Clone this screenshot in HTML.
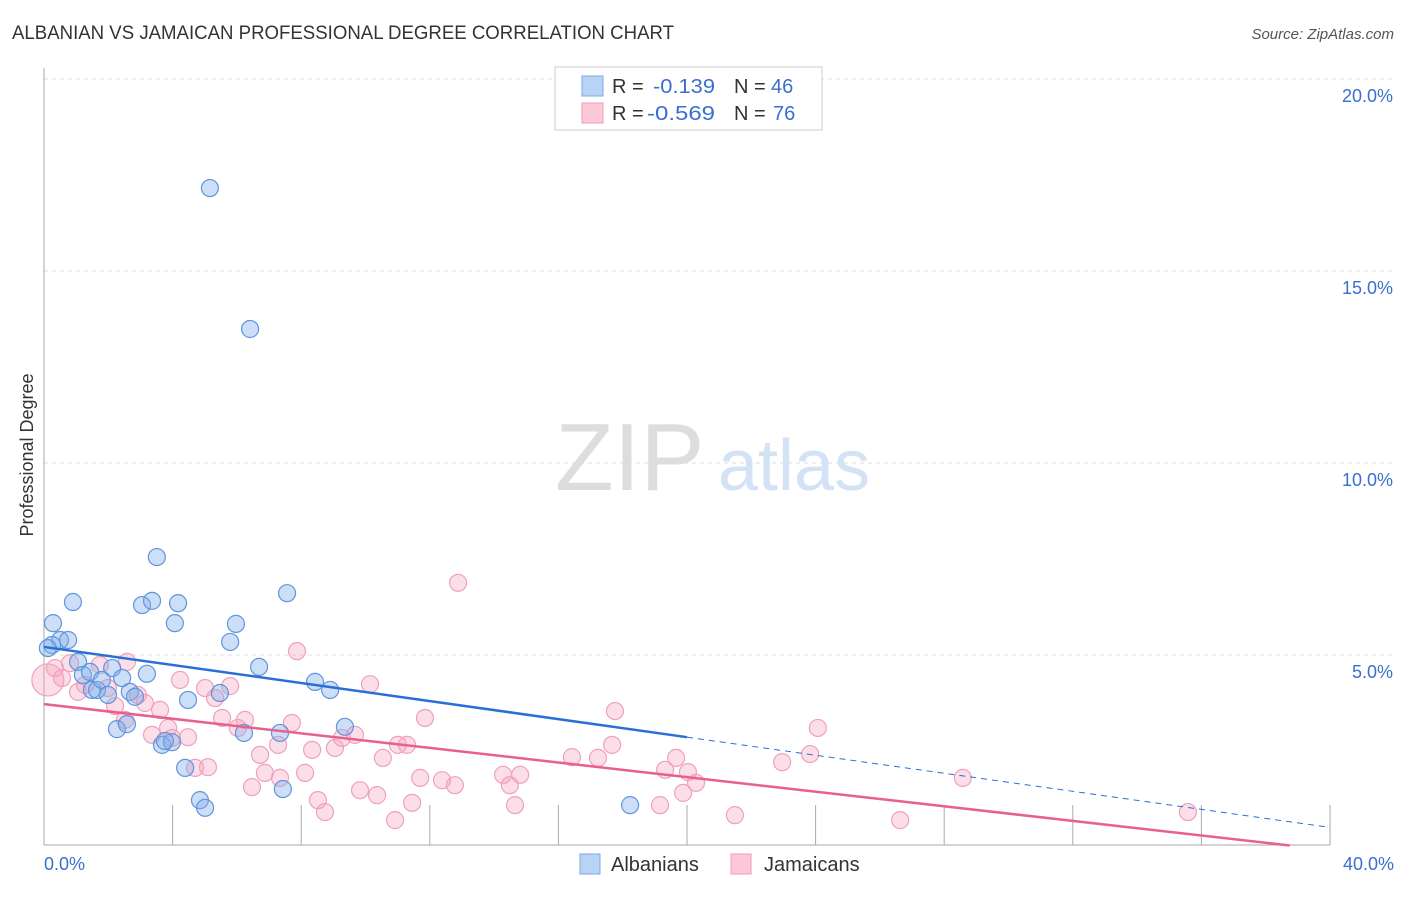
<!DOCTYPE html>
<html><head><meta charset="utf-8">
<style>
body{margin:0;background:#fff;font-family:"Liberation Sans",sans-serif;}
svg text{font-family:"Liberation Sans",sans-serif;}
</style></head>
<body>
<svg id="chart" width="1406" height="892" xmlns="http://www.w3.org/2000/svg">
<text x="12" y="39" font-size="19" fill="#333" textLength="662" lengthAdjust="spacingAndGlyphs">ALBANIAN VS JAMAICAN PROFESSIONAL DEGREE CORRELATION CHART</text>
<text x="1394" y="39" font-size="15" fill="#555" font-style="italic" text-anchor="end">Source: ZipAtlas.com</text>
<text x="33" y="455" font-size="18" fill="#333" transform="rotate(-90 33 455)" text-anchor="middle">Professional Degree</text>
<g id="grid"></g>
<text x="555" y="490" font-size="96" fill="#ddd" font-family="Liberation Serif">ZIP</text>
<text x="718" y="490" font-size="72" fill="#d3e2f5">atlas</text>
<g id="marks"></g>
<g>
<rect x="555" y="67" width="267" height="63" fill="#fff" stroke="#ccc"/>
<rect x="582" y="76" width="21" height="20" fill="#b9d3f5" stroke="#7aa8e6"/>
<rect x="582" y="103" width="21" height="20" fill="#fbc9d8" stroke="#f09ab8"/>
<text x="612" y="93" font-size="20" fill="#333">R =</text>
<text x="653" y="93" font-size="20" fill="#3a6fd0" textLength="62" lengthAdjust="spacingAndGlyphs">-0.139</text>
<text x="734" y="93" font-size="20" fill="#333">N =</text>
<text x="771" y="93" font-size="20" fill="#3a6fd0">46</text>
<text x="612" y="120" font-size="20" fill="#333">R =</text>
<text x="647" y="120" font-size="20" fill="#3a6fd0" textLength="68" lengthAdjust="spacingAndGlyphs">-0.569</text>
<text x="734" y="120" font-size="20" fill="#333">N =</text>
<text x="773" y="120" font-size="20" fill="#3a6fd0">76</text>
</g>
<g>
<rect x="580" y="854" width="20" height="20" fill="#b9d3f5" stroke="#7aa8e6"/>
<text x="611" y="871" font-size="20" fill="#333">Albanians</text>
<rect x="731" y="854" width="20" height="20" fill="#fbc9d8" stroke="#f09ab8"/>
<text x="764" y="871" font-size="20" fill="#333">Jamaicans</text>
</g>
</svg>
<script>
const yTicks=[5,10,15,20];
const yTickLabels=["5.0%","10.0%","15.0%","20.0%"];
const xTickLabels=["0.0%","40.0%"];
const blueX=[0.28,0.90,0.50,0.75,0.25,1.06,1.21,1.43,1.49,1.65,2.12,1.80,2.43,1.99,2.67,2.83,3.20,2.27,2.58,3.05,3.36,3.51,4.17,4.07,4.48,3.67,3.98,4.39,4.85,5.01,5.16,6.41,5.47,5.97,5.79,6.22,6.69,7.34,7.43,7.56,8.43,8.90,9.36,18.23,0.12,3.76];
const blueY=[5.83,6.38,5.39,5.39,5.26,4.82,4.48,4.56,4.09,4.09,4.66,4.35,4.40,3.96,4.04,3.91,4.51,3.07,3.20,6.30,6.41,7.55,6.35,5.83,3.83,2.66,2.73,2.06,1.22,1.02,17.16,13.49,4.01,5.81,5.34,2.97,4.69,2.97,1.51,6.61,4.30,4.09,3.13,1.09,5.18,2.76];
const pinkX=[0.12,0.34,0.56,0.81,1.06,1.28,1.74,1.99,2.21,2.58,2.52,2.92,3.14,3.36,3.61,3.86,3.98,4.23,4.48,4.70,5.01,5.10,5.32,5.54,5.79,6.03,6.25,6.47,6.72,6.87,7.28,7.34,7.71,7.87,8.12,8.34,8.52,8.74,9.05,9.27,9.67,9.83,10.14,10.36,10.54,10.92,11.01,11.29,11.45,11.70,11.85,12.38,12.78,12.88,14.28,14.49,14.65,14.81,16.42,17.23,17.67,17.76,19.16,19.32,19.66,19.88,20.03,20.28,21.49,22.96,23.83,24.07,26.63,28.58,35.58];
const pinkY=[4.35,4.66,4.40,4.79,4.04,4.22,4.74,4.14,3.67,4.82,3.31,3.96,3.75,2.92,3.57,3.10,2.84,4.35,2.86,2.06,4.14,2.08,3.88,3.36,4.19,3.10,3.31,1.56,2.40,1.93,2.66,1.80,3.23,5.10,1.93,2.53,1.22,0.91,2.58,2.84,2.92,1.48,4.24,1.35,2.32,0.70,2.66,2.66,1.15,1.80,3.36,1.74,1.61,6.88,1.88,1.61,1.09,1.88,2.34,2.32,2.66,3.54,1.09,2.01,2.32,1.41,1.95,1.67,0.83,2.21,2.42,3.10,0.70,1.80,0.91];
const blueTrend=[5.21,-0.1175];
const pinkTrend=[3.72,-0.095];
const X=v=>44+32.15*v, Y=v=>847-38.4*v;
const NS="http://www.w3.org/2000/svg";
function mk(t,a,p){const e=document.createElementNS(NS,t);for(const k in a)e.setAttribute(k,a[k]);p.appendChild(e);return e;}
const grid=document.getElementById('grid'), marks=document.getElementById('marks');
yTicks.forEach((t,i)=>{
 const l=mk('line',{x1:44,x2:1394,y1:Y(t),y2:Y(t),stroke:'#ddd','stroke-dasharray':'4,4'},grid);
 
 
 const tx=mk('text',{x:1393,y:Y(t)+23,'font-size':18,fill:'#3a6fd0','text-anchor':'end'},grid);
 tx.textContent=yTickLabels[i];
 
 
});
const ax=mk('line',{x1:44,x2:44,y1:68,y2:845,stroke:'#aaa'},grid);


const bx=mk('line',{x1:44,x2:1330,y1:845,y2:845,stroke:'#aaa'},grid);


for(let i=1;i<=10;i++){const t=mk('line',{x1:X(i*4),x2:X(i*4),y1:805,y2:845,stroke:'#aaa'},grid);
 
 }
[[0,44,'start'],[40,1394,'end']].forEach((d,i)=>{const t=mk('text',{x:d[1],y:870,'font-size':18,fill:'#3a6fd0','text-anchor':d[2]},grid);t.textContent=xTickLabels[i];
 
 });
function pts(xs,ys,fill,stroke,name){xs.forEach((x,i)=>{const c=mk('circle',{cx:X(x),cy:Y(ys[i]),r:(name==='jamaican-point'&&i===0)?16:8.5,fill:fill,stroke:stroke,'stroke-width':1.2},marks);
 
 });}
pts(pinkX,pinkY,'rgba(245,160,190,0.35)','#f0a0bd','jamaican-point');
pts(blueX,blueY,'rgba(130,175,235,0.4)','#5f95dd','albanian-point');
const b1=mk('line',{x1:X(0),y1:Y(blueTrend[0]),x2:X(20),y2:Y(blueTrend[0]+blueTrend[1]*20),stroke:'#2a6fd6','stroke-width':2.5},marks);


const b2=mk('line',{x1:X(20),y1:Y(blueTrend[0]+blueTrend[1]*20),x2:X(40),y2:Y(blueTrend[0]+blueTrend[1]*40),stroke:'#2a6fd6','stroke-width':1,'stroke-dasharray':'6,5'},marks);


const p1=mk('line',{x1:X(0),y1:Y(pinkTrend[0]),x2:X(38.75),y2:Y(pinkTrend[0]+pinkTrend[1]*38.75),stroke:'#e8608e','stroke-width':2.5},marks);


</script>
</body></html>
